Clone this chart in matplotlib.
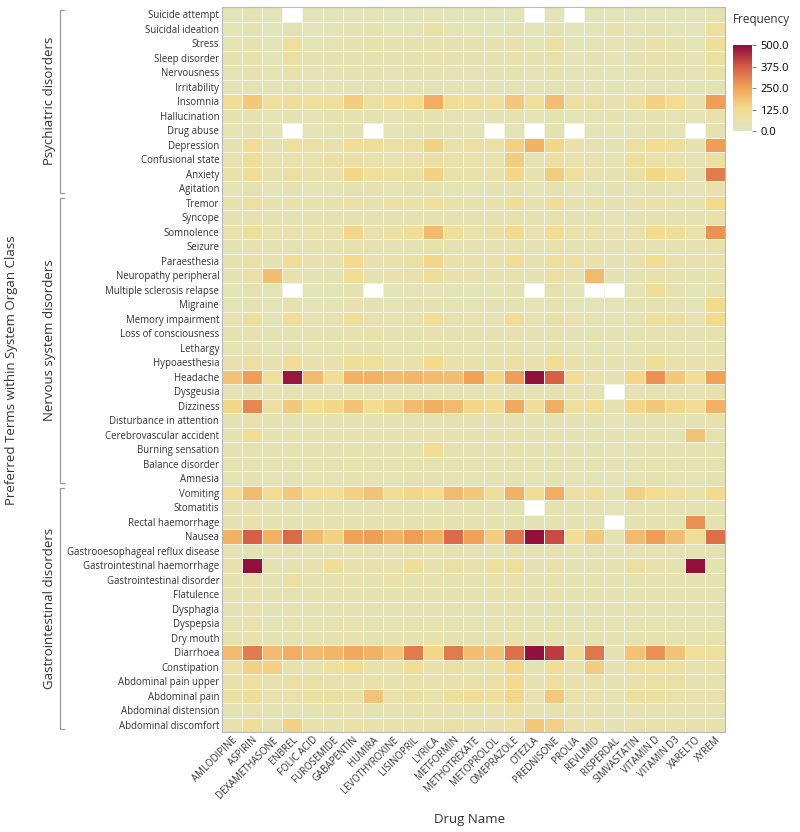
import numpy as np
import matplotlib
matplotlib.use("Agg")
import matplotlib.pyplot as plt
import matplotlib.transforms as mtransforms
from matplotlib.colors import LinearSegmentedColormap

plt.rcParams['font.family'] = ['Open Sans', 'DejaVu Sans']

nan = np.nan

drugs = ["AMLODIPINE", "ASPIRIN", "DEXAMETHASONE", "ENBREL", "FOLIC ACID", "FUROSEMIDE",
         "GABAPENTIN", "HUMIRA", "LEVOTHYROXINE", "LISINOPRIL", "LYRICA", "METFORMIN",
         "METHOTREXATE", "METOPROLOL", "OMEPRAZOLE", "OTEZLA", "PREDNISONE", "PROLIA",
         "REVLIMID", "RISPERDAL", "SIMVASTATIN", "VITAMIN D", "VITAMIN D3", "XARELTO", "XYREM"]

psych_terms = ["Suicide attempt", "Suicidal ideation", "Stress", "Sleep disorder", "Nervousness",
               "Irritability", "Insomnia", "Hallucination", "Drug abuse", "Depression",
               "Confusional state", "Anxiety", "Agitation"]
psych_values = [
    [30, 40, 30, nan, 30, 30, 30, 35, 30, 30, 35, 30, 30, 30, 30, nan, 35, nan, 30, 30, 30, 35, 30, 30, 45],
    [35, 40, 30, 40, 30, 35, 40, 45, 35, 35, 70, 35, 35, 35, 40, 30, 45, 30, 35, 60, 35, 40, 35, 30, 90],
    [35, 45, 35, 90, 35, 35, 45, 55, 40, 40, 45, 40, 40, 50, 50, 35, 80, 35, 35, 35, 40, 55, 45, 35, 100],
    [40, 55, 35, 75, 40, 40, 45, 45, 40, 40, 50, 40, 40, 45, 55, 40, 60, 35, 40, 35, 40, 50, 45, 35, 80],
    [35, 50, 35, 55, 35, 35, 40, 40, 35, 40, 45, 35, 35, 40, 45, 35, 50, 35, 35, 35, 35, 40, 40, 35, 60],
    [35, 40, 30, 40, 35, 35, 35, 40, 35, 35, 40, 35, 35, 35, 45, 35, 40, 35, 35, 30, 35, 40, 35, 30, 45],
    [100, 170, 90, 100, 90, 90, 160, 80, 110, 120, 230, 110, 100, 90, 170, 90, 190, 80, 80, 50, 80, 150, 120, 60, 260],
    [40, 50, 35, 40, 35, 40, 45, 40, 35, 40, 45, 35, 35, 40, 45, 35, 45, 35, 35, 40, 35, 40, 35, 35, 55],
    [35, 40, 35, nan, 35, 35, 40, nan, 35, 35, 40, 35, 35, nan, 35, nan, 40, nan, 35, 35, 35, 40, 35, nan, 45],
    [50, 110, 50, 90, 70, 50, 110, 100, 80, 80, 150, 60, 80, 70, 150, 220, 140, 60, 50, 40, 80, 120, 100, 50, 260],
    [50, 100, 50, 60, 60, 70, 70, 60, 50, 60, 70, 60, 60, 60, 160, 40, 80, 60, 50, 40, 90, 60, 60, 40, 80],
    [60, 110, 50, 80, 60, 50, 140, 90, 80, 70, 150, 60, 60, 60, 140, 50, 160, 90, 50, 40, 70, 140, 110, 40, 320],
    [35, 45, 35, 40, 35, 35, 40, 40, 35, 40, 45, 35, 35, 40, 45, 35, 45, 35, 35, 40, 35, 40, 35, 35, 60],
]

nerv_terms = ["Tremor", "Syncope", "Somnolence", "Seizure", "Paraesthesia", "Neuropathy peripheral",
              "Multiple sclerosis relapse", "Migraine", "Memory impairment", "Loss of consciousness",
              "Lethargy", "Hypoaesthesia", "Headache", "Dysgeusia", "Dizziness",
              "Disturbance in attention", "Cerebrovascular accident", "Burning sensation",
              "Balance disorder", "Amnesia"]
nerv_values = [
    [50, 80, 50, 60, 50, 50, 70, 50, 70, 60, 90, 60, 50, 60, 100, 50, 100, 50, 60, 40, 50, 60, 50, 50, 130],
    [40, 50, 40, 45, 40, 40, 45, 40, 40, 45, 45, 45, 40, 45, 50, 40, 50, 40, 40, 35, 40, 45, 40, 40, 60],
    [60, 90, 50, 50, 60, 50, 140, 50, 70, 100, 200, 90, 60, 70, 130, 50, 110, 60, 60, 50, 50, 120, 100, 60, 280],
    [45, 50, 40, 45, 45, 45, 50, 45, 45, 45, 55, 45, 45, 45, 50, 40, 60, 40, 45, 40, 45, 45, 45, 40, 55],
    [50, 70, 40, 110, 50, 50, 130, 50, 60, 70, 140, 60, 60, 60, 110, 50, 90, 80, 60, 40, 50, 110, 60, 50, 60],
    [40, 70, 190, 50, 40, 40, 110, 40, 50, 60, 100, 50, 50, 50, 60, 40, 80, 50, 200, 40, 40, 60, 50, 40, 60],
    [30, 40, 35, nan, 30, 30, 40, nan, 30, 30, 35, 30, 30, 35, 40, nan, 40, 35, nan, nan, 35, 100, 40, 30, 40],
    [35, 40, 35, 50, 35, 35, 50, 40, 35, 40, 45, 35, 35, 40, 45, 35, 50, 35, 35, 35, 40, 45, 40, 35, 130],
    [50, 90, 40, 110, 50, 50, 100, 50, 50, 60, 110, 50, 60, 50, 110, 50, 70, 60, 50, 40, 50, 90, 80, 50, 130],
    [45, 50, 40, 45, 45, 45, 50, 60, 45, 45, 50, 45, 45, 45, 50, 40, 50, 40, 45, 40, 45, 45, 45, 40, 50],
    [35, 40, 35, 40, 35, 35, 40, 40, 35, 35, 40, 35, 35, 40, 40, 35, 45, 35, 35, 35, 35, 40, 35, 35, 45],
    [50, 80, 50, 110, 50, 50, 100, 90, 60, 60, 130, 60, 60, 60, 80, 50, 110, 60, 50, 40, 50, 100, 60, 50, 60],
    [180, 260, 90, 480, 200, 110, 220, 220, 200, 210, 200, 190, 250, 140, 260, 490, 370, 110, 60, 40, 140, 280, 170, 110, 250],
    [40, 45, 40, 45, 40, 40, 45, 40, 40, 45, 45, 40, 40, 50, 50, 40, 45, 40, 40, nan, 40, 45, 40, 40, 50],
    [140, 300, 80, 170, 120, 140, 180, 120, 150, 200, 230, 200, 140, 130, 240, 100, 230, 90, 110, 40, 140, 170, 140, 110, 220],
    [40, 50, 40, 45, 40, 40, 45, 40, 40, 45, 50, 40, 40, 45, 50, 40, 45, 40, 40, 35, 40, 45, 40, 40, 60],
    [40, 110, 40, 60, 50, 40, 50, 45, 45, 50, 50, 50, 45, 45, 50, 40, 50, 40, 45, 40, 45, 50, 45, 180, 50],
    [40, 45, 40, 45, 40, 40, 45, 40, 40, 45, 110, 40, 40, 45, 55, 40, 45, 40, 40, 35, 40, 45, 40, 40, 50],
    [40, 45, 40, 45, 40, 40, 60, 40, 40, 45, 45, 40, 40, 45, 45, 40, 45, 40, 40, 35, 40, 45, 40, 40, 45],
    [35, 40, 35, 40, 35, 35, 40, 35, 35, 40, 40, 35, 35, 40, 40, 35, 40, 35, 35, 35, 35, 40, 35, 35, 45],
]

gast_terms = ["Vomiting", "Stomatitis", "Rectal haemorrhage", "Nausea", "Gastrooesophageal reflux disease",
              "Gastrointestinal haemorrhage", "Gastrointestinal disorder", "Flatulence", "Dysphagia",
              "Dyspepsia", "Dry mouth", "Diarrhoea", "Constipation", "Abdominal pain upper",
              "Abdominal pain", "Abdominal distension", "Abdominal discomfort"]
gast_values = [
    [110, 200, 120, 170, 120, 110, 150, 180, 110, 140, 120, 200, 170, 100, 220, 110, 230, 80, 100, 40, 150, 120, 90, 60, 130],
    [40, 50, 45, 40, 40, 40, 40, 40, 40, 40, 45, 40, 45, 40, 45, nan, 45, 40, 40, 35, 40, 40, 40, 40, 45],
    [40, 60, 40, 45, 40, 40, 45, 40, 40, 45, 45, 40, 40, 45, 45, 40, 45, 40, 40, nan, 40, 45, 40, 280, 45],
    [220, 370, 220, 350, 200, 150, 250, 260, 220, 260, 220, 350, 250, 160, 330, 490, 400, 110, 170, 40, 200, 260, 190, 100, 340],
    [40, 45, 40, 45, 40, 40, 45, 40, 40, 45, 45, 40, 40, 45, 50, 40, 45, 40, 40, 35, 40, 45, 40, 40, 45],
    [50, 490, 40, 40, 50, 100, 50, 50, 50, 100, 50, 70, 50, 90, 90, 40, 60, 45, 45, 40, 80, 50, 45, 490, 45],
    [45, 50, 40, 80, 45, 45, 50, 45, 60, 45, 50, 45, 45, 55, 55, 40, 50, 40, 45, 40, 45, 45, 45, 40, 45],
    [45, 50, 40, 45, 45, 45, 50, 45, 45, 45, 50, 45, 45, 50, 55, 40, 50, 40, 45, 40, 45, 45, 45, 40, 45],
    [45, 60, 40, 50, 45, 45, 50, 45, 45, 45, 50, 45, 45, 50, 55, 40, 50, 40, 45, 40, 45, 45, 45, 40, 45],
    [45, 60, 40, 55, 45, 45, 50, 45, 45, 50, 50, 45, 45, 50, 60, 40, 50, 40, 45, 40, 45, 45, 45, 40, 45],
    [45, 60, 40, 45, 45, 45, 50, 45, 45, 45, 55, 45, 45, 50, 55, 40, 50, 40, 45, 40, 45, 50, 45, 40, 55],
    [200, 320, 200, 230, 200, 210, 240, 220, 170, 320, 140, 320, 190, 180, 340, 490, 420, 100, 330, 40, 180, 280, 180, 90, 90],
    [80, 150, 150, 50, 60, 90, 120, 60, 60, 110, 60, 70, 60, 80, 140, 40, 110, 60, 160, 40, 80, 90, 80, 50, 60],
    [60, 90, 50, 80, 70, 50, 50, 60, 50, 60, 50, 60, 60, 70, 130, 40, 90, 60, 60, 40, 60, 70, 70, 50, 50],
    [70, 100, 50, 60, 80, 70, 70, 180, 60, 70, 60, 90, 100, 90, 140, 50, 170, 60, 60, 40, 80, 80, 60, 50, 60],
    [45, 50, 40, 45, 45, 45, 50, 45, 45, 45, 50, 45, 45, 50, 70, 40, 50, 40, 45, 40, 45, 45, 45, 40, 45],
    [60, 100, 45, 150, 60, 50, 70, 60, 60, 60, 60, 70, 60, 60, 80, 170, 150, 60, 60, 40, 60, 60, 60, 50, 60],
]

groups = ["Psychiatric disorders", "Nervous system disorders", "Gastrointestinal disorders"]
group_terms = [psych_terms, nerv_terms, gast_terms]

terms = psych_terms + nerv_terms + gast_terms
data = np.array(psych_values + nerv_values + gast_values, dtype=float)

cmap = LinearSegmentedColormap.from_list(
    "freq", [(0.0, "#dde5c4"), (0.25, "#f4dc8e"), (0.5, "#f0a458"),
             (0.75, "#d65c45"), (1.0, "#8e0a3b")])
cmap.set_bad("white")

fig = plt.figure(figsize=(8, 8.32), dpi=100)
ax = fig.add_axes([222 / 800, 1 - 732 / 832, 503 / 800, 725 / 832])

mesh = ax.pcolormesh(np.ma.masked_invalid(data), cmap=cmap, vmin=0, vmax=500,
                     edgecolors="#f3f3e6", linewidth=0.6)
ax.set_xlim(0, len(drugs))
ax.set_ylim(len(terms), 0)

ax.set_yticks(np.arange(len(terms)) + 0.5)
ax.set_yticklabels(terms, fontsize=6.9, color="#333333")
ax.set_xticks(np.arange(len(drugs)) + 0.5)
ax.set_xticklabels(drugs, fontsize=6.9, rotation=45, ha="right", va="top",
                   rotation_mode="anchor", color="#333333")
ax.tick_params(length=0, pad=2)
for s in ax.spines.values():
    s.set_color("#b8b8b8")
    s.set_linewidth(0.8)

# group brackets on the left
trans = mtransforms.blended_transform_factory(fig.transFigure, ax.transData)
start = 0
for name, tl in zip(groups, group_terms):
    y0 = start + 0.2
    y1 = start + len(tl) - 0.2
    xb = 60 / 800
    xt = 64 / 800
    ax.plot([xt, xb, xb, xt], [y0, y0, y1, y1], color="#9a9a9a", lw=0.9,
            transform=trans, clip_on=False)
    ax.text(50 / 800, (start + start + len(tl)) / 2, name, rotation=90,
            ha="center", va="center", fontsize=9.5, color="#333333", transform=trans)
    start += len(tl)

fig.text(12 / 800, 1 - 370 / 832, "Preferred Terms within System Organ Class",
         rotation=90, ha="center", va="center", fontsize=9.5, color="#333333")
fig.text(470 / 800, 1 - 820 / 832, "Drug Name", ha="center", va="center",
         fontsize=9.5, color="#333333")

# colour bar
cax = fig.add_axes([733 / 800, 1 - 131 / 832, 19 / 800, 86 / 832])
cb = fig.colorbar(mesh, cax=cax, ticks=[0, 125, 250, 375, 500], format="%.1f")
cb.outline.set_visible(False)
cax.tick_params(labelsize=8, length=3, color="#888888", pad=3)
fig.text(733 / 800, 1 - 20 / 832, "Frequency", ha="left", va="center", fontsize=8.5,
         color="#333333")

fig.savefig("out.png", dpi=100)
